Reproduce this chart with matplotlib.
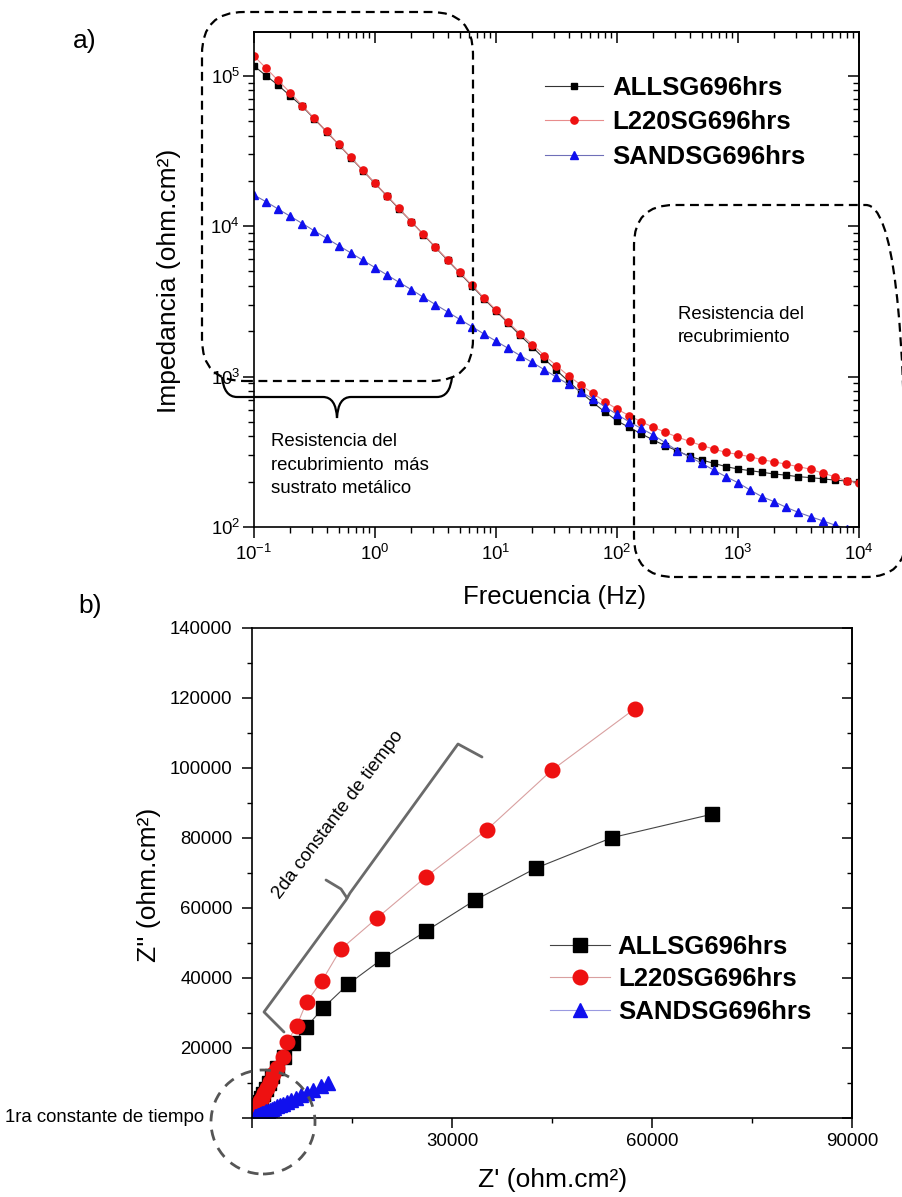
import matplotlib
matplotlib.use("Agg")
import matplotlib.pyplot as plt
from matplotlib.patches import FancyBboxPatch, Circle, PathPatch
from matplotlib.path import Path
from matplotlib.ticker import LogLocator, NullFormatter, MultipleLocator, FuncFormatter

plt.rcParams['font.family'] = ['Liberation Sans', 'DejaVu Sans']
plt.rcParams['mathtext.default'] = 'regular'
plt.rcParams['axes.linewidth'] = 1.2

# --- datos Bode (frecuencia en Hz, |Z| en ohm.cm2) ---
freq = [0.1, 0.126, 0.158, 0.2, 0.251, 0.316, 0.398, 0.501, 0.631, 0.794,
        1.0, 1.26, 1.58, 2.0, 2.51, 3.16, 3.98, 5.01, 6.31, 7.94,
        10, 12.6, 15.8, 20, 25.1, 31.6, 39.8, 50.1, 63.1, 79.4,
        100, 126, 158, 200, 251, 316, 398, 501, 631, 794,
        1000, 1260, 1580, 2000, 2510, 3160, 3980, 5010, 6310, 7940, 10000]

z_all = [116000, 99800, 86500, 73100, 62400, 51500, 42400, 34800, 28500, 23400,
         19200, 15800, 13000, 10700, 8790, 7210, 5930, 4880, 4010, 3300,
         2730, 2260, 1880, 1570, 1310, 1100, 929, 785, 673, 582,
         508, 459, 417, 378, 347, 320, 295, 279, 265, 252,
         243, 237, 231, 225, 221, 216, 213, 209, 205, 202, 200]

z_l220 = [135000, 112000, 92900, 76900, 63100, 51900, 42600, 34900, 28600, 23500,
          19300, 15900, 13100, 10700, 8830, 7260, 5980, 4920, 4060, 3340,
          2770, 2300, 1930, 1630, 1380, 1180, 1010, 881, 773, 682,
          608, 550, 501, 460, 426, 396, 371, 348, 330, 313,
          304, 293, 280, 271, 261, 252, 242, 228, 216, 202, 197]

z_sand = [16100, 14500, 13000, 11600, 10400, 9290, 8300, 7410, 6640, 5930,
          5300, 4730, 4230, 3780, 3370, 3010, 2690, 2400, 2150, 1920,
          1720, 1540, 1380, 1240, 1110, 991, 887, 794, 711, 631,
          560, 500, 453, 408, 363, 321, 293, 265, 239, 216,
          197, 176, 159, 147, 135, 125, 117, 110, 103, 97.7, 92.3]

# --- datos Nyquist (0.1 Hz a 100 Hz) ---
zre_all = [69000, 54000, 42600, 33500, 26100, 19500, 14400, 10700, 8100, 6200, 4800,
           3700, 3000, 2500, 2050, 1700, 1400, 1150, 950, 800, 680,
           580, 500, 430, 370, 320, 280, 245, 215, 190, 170]
zim_all = [86800, 80100, 71400, 62300, 53400, 45400, 38200, 31500, 25900, 21300, 17500,
           14300, 12100, 10000, 8300, 6800, 5600, 4620, 3800, 3120, 2580,
           2130, 1770, 1470, 1220, 1020, 850, 710, 600, 500, 420]

zre_l220 = [57400, 45000, 35200, 26100, 18800, 13300, 10500, 8200, 6700, 5300, 4600,
            3700, 3200, 2650, 2200, 1800, 1500, 1250, 1050, 880, 750,
            640, 550, 480, 420, 370, 330, 300, 270, 250, 230]
zim_l220 = [116900, 99400, 82300, 68900, 57200, 48200, 39200, 33200, 26300, 21800, 17500,
            14200, 12700, 10400, 8550, 7030, 5790, 4760, 3920, 3220, 2670,
            2210, 1850, 1550, 1300, 1100, 930, 800, 690, 600, 530]

zre_sand = [11450, 10300, 9200, 8210, 7360, 6580, 5880, 5250, 4700, 4200, 3750,
            3350, 2990, 2680, 2390, 2130, 1900, 1700, 1520, 1360, 1220,
            1090, 975, 875, 785, 705, 630, 565, 510, 455, 405]
zim_sand = [9900, 9050, 8100, 7230, 6480, 5790, 5170, 4620, 4140, 3700, 3300,
            2950, 2630, 2360, 2100, 1870, 1680, 1500, 1340, 1200, 1070,
            960, 860, 770, 690, 615, 550, 495, 440, 395, 355]

labels = ['ALLSG696hrs', 'L220SG696hrs', 'SANDSG696hrs']

W, H = 903, 1197
fig = plt.figure(figsize=(W / 100, H / 100), dpi=100)


def rect(l, t, r, b):
    return [l / W, 1 - b / H, (r - l) / W, (b - t) / H]


def pin(x, y):
    # pixel -> pulgadas desde abajo a la izquierda
    return (x / 100, (H - y) / 100)


def fpos(x, y):
    return (x / W, 1 - y / H)


# ================= a) Bode =================
ax1 = fig.add_axes(rect(254, 32, 859, 527))
ax1.set_xscale('log')
ax1.set_yscale('log')
ax1.plot(freq, z_all, '-s', color='#333333', mfc='black', mec='black', ms=4.8, lw=0.8, label=labels[0])
ax1.plot(freq, z_l220, '-o', color='#e88c8c', mfc='#ee1111', mec='#ee1111', ms=5.2, lw=0.8, label=labels[1])
ax1.plot(freq, z_sand, '-^', color='#6f6fb8', mfc='#1010ee', mec='#1010ee', ms=5.8, lw=0.8, label=labels[2])
ax1.set_xlim(0.1, 1e4)
ax1.set_ylim(100, 1.95e5)

for axis in (ax1.xaxis, ax1.yaxis):
    axis.set_major_locator(LogLocator(base=10, numticks=10))
    axis.set_minor_locator(LogLocator(base=10, subs=range(2, 10), numticks=20))
    axis.set_minor_formatter(NullFormatter())
ax1.tick_params(which='major', direction='out', length=8, width=1.1, labelsize=13.4, pad=2)
ax1.tick_params(axis='x', which='major', pad=4)
ax1.tick_params(which='minor', direction='out', length=4, width=1.0)

sx = ax1.secondary_xaxis('top')
sx.set_xscale('log')
sx.xaxis.set_major_locator(LogLocator(base=10, numticks=10))
sx.xaxis.set_minor_locator(LogLocator(base=10, subs=range(2, 10), numticks=20))
sx.tick_params(which='major', direction='in', length=8, width=1.1, labeltop=False)
sx.tick_params(which='minor', direction='in', length=4, width=1.0, labeltop=False)
sy = ax1.secondary_yaxis('right')
sy.set_yscale('log')
sy.yaxis.set_major_locator(LogLocator(base=10, numticks=10))
sy.yaxis.set_minor_locator(LogLocator(base=10, subs=range(2, 10), numticks=20))
sy.tick_params(which='major', direction='in', length=8, width=1.1, labelright=False)
sy.tick_params(which='minor', direction='in', length=4, width=1.0, labelright=False)

ax1.legend(loc='upper left', bbox_to_anchor=fpos(545, 76), bbox_transform=fig.transFigure,
           frameon=False, borderpad=0, borderaxespad=0, handlelength=2.26, handletextpad=0.35,
           labelspacing=0.40, numpoints=1, prop={'weight': 'bold', 'size': 18.5})

fig.text(*fpos(169, 281), 'Impedancia (ohm.cm²)', rotation=90, ha='center', va='center', fontsize=19)
fig.text(*fpos(555, 597), 'Frecuencia (Hz)', ha='center', va='center', fontsize=18.5)
fig.text(*fpos(85, 41), 'a)', ha='center', va='center', fontsize=19)

# anotaciones a)
dash = (0, (4, 2.5))
box1 = FancyBboxPatch(pin(202, 381), 2.71, 3.69, boxstyle='round,pad=0,rounding_size=0.42',
                      transform=fig.dpi_scale_trans, fill=False, ec='black', lw=1.6, ls=dash)
fig.add_artist(box1)
box2 = FancyBboxPatch(pin(634, 577), 2.72, 3.72, boxstyle='round,pad=0,rounding_size=0.40',
                      transform=fig.dpi_scale_trans, fill=False, ec='black', lw=1.6, ls=dash)
fig.add_artist(box2)

brace_px = [(222, 377), (224, 397), (237, 397), (323, 397), (336, 397), (337, 418),
            (338, 397), (351, 397), (437, 397), (450, 397), (452, 377)]
codes = [Path.MOVETO, Path.CURVE3, Path.CURVE3, Path.LINETO, Path.CURVE3, Path.CURVE3,
         Path.CURVE3, Path.CURVE3, Path.LINETO, Path.CURVE3, Path.CURVE3]
brace = PathPatch(Path([pin(x, y) for x, y in brace_px], codes), transform=fig.dpi_scale_trans,
                  fill=False, ec='black', lw=1.6)
fig.add_artist(brace)

fig.text(*fpos(271, 465), 'Resistencia del\nrecubrimiento  más\nsustrato metálico',
         ha='left', va='center', fontsize=13.4, linespacing=1.5)
fig.text(*fpos(678, 326), 'Resistencia del\nrecubrimiento',
         ha='left', va='center', fontsize=13.4, linespacing=1.5)

# ================= b) Nyquist =================
ax2 = fig.add_axes(rect(252, 628, 852, 1118))
ax2.plot(zre_all, zim_all, '-s', color='#444444', mfc='black', mec='black', ms=9.5, lw=0.8, label=labels[0])
ax2.plot(zre_l220, zim_l220, '-o', color='#d9a0a0', mfc='#ee1111', mec='#ee1111', ms=10.5, lw=0.8, label=labels[1])
ax2.plot(zre_sand, zim_sand, '-^', color='#9a9ae0', mfc='#1010ee', mec='#1010ee', ms=10.5, lw=0.8, label=labels[2])
ax2.set_xlim(0, 90000)
ax2.set_ylim(0, 140000)
ax2.xaxis.set_major_locator(MultipleLocator(30000))
ax2.xaxis.set_minor_locator(MultipleLocator(15000))
ax2.yaxis.set_major_locator(MultipleLocator(20000))
ax2.yaxis.set_minor_locator(MultipleLocator(10000))
nozero = FuncFormatter(lambda v, p: '' if v == 0 else f'{v:.0f}')
ax2.xaxis.set_major_formatter(nozero)
ax2.yaxis.set_major_formatter(nozero)
ax2.tick_params(which='major', direction='out', length=7, width=1.1, labelsize=13.4)
ax2.tick_params(axis='y', which='major', pad=7)
ax2.tick_params(axis='x', which='major', pad=4)
ax2.tick_params(which='minor', direction='out', length=3.5, width=1.0)
sy2 = ax2.secondary_yaxis('right')
sy2.yaxis.set_major_locator(MultipleLocator(20000))
sy2.yaxis.set_minor_locator(MultipleLocator(10000))
sy2.tick_params(which='major', direction='in', length=7, width=1.1, labelright=False)
sy2.tick_params(which='minor', direction='in', length=3.5, width=1.0, labelright=False)

ax2.legend(loc='upper left', bbox_to_anchor=fpos(550, 935), bbox_transform=fig.transFigure,
           frameon=False, borderpad=0, borderaxespad=0, handlelength=2.33, handletextpad=0.31,
           labelspacing=0.33, numpoints=1, prop={'weight': 'bold', 'size': 18.5})

fig.text(*fpos(149, 885), "Z'' (ohm.cm²)", rotation=90, ha='center', va='center', fontsize=19)
fig.text(*fpos(553, 1180), "Z' (ohm.cm²)", ha='center', va='center', fontsize=19)
fig.text(*fpos(90, 606), 'b)', ha='center', va='center', fontsize=19)

# anotaciones b)
circ = Circle(pin(263, 1122), 0.52, transform=fig.dpi_scale_trans, fill=False,
              ec='#555555', lw=2, ls=(0, (4, 3)))
fig.add_artist(circ)
fig.text(*fpos(5, 1118), '1ra constante de tiempo', ha='left', va='center', fontsize=13.4)

gray = '#6a6a6a'
arm = [(284, 1032), (264, 1012), (346, 900), (350, 893), (458, 744), (482, 757)]
notch = [(347, 898), (341, 889), (326, 880)]
for pts in (arm, notch):
    xs = [pin(x, y)[0] for x, y in pts]
    ys = [pin(x, y)[1] for x, y in pts]
    fig.add_artist(plt.Line2D(xs, ys, transform=fig.dpi_scale_trans, color=gray, lw=2,
                              solid_joinstyle='round', solid_capstyle='round'))
fig.text(*fpos(338, 815), '2da constante de tiempo', rotation=53, rotation_mode='anchor',
         ha='center', va='center', fontsize=13.6)

fig.savefig('out.png', dpi=100)
